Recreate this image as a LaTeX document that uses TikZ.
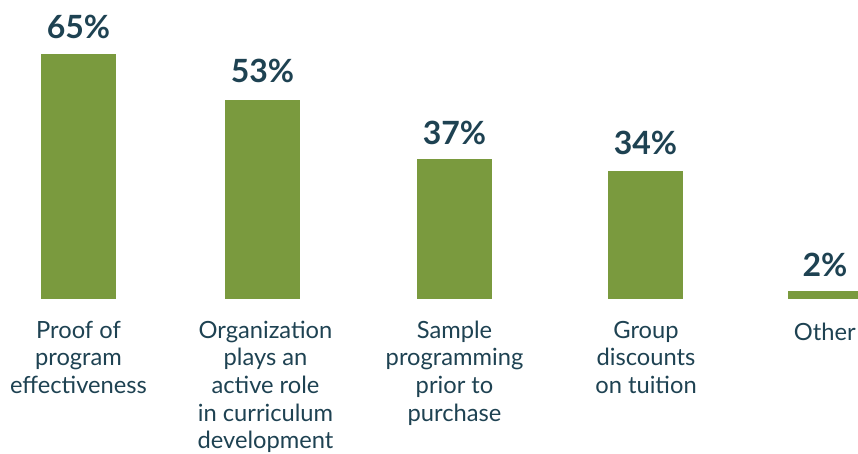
\documentclass[tikz,border=0pt]{standalone}
\usepackage{fontspec}
\setmainfont{Lato}
\definecolor{barg}{RGB}{122,154,62}
\definecolor{txt}{RGB}{30,66,82}
\begin{document}
\begin{tikzpicture}[x=1pt,y=-1pt,
  bar/.style={fill=barg,draw=none,inner sep=0pt,anchor=south,minimum width=75pt},
  val/.style={anchor=base,inner sep=0pt,text=txt,font=\fontsize{32}{36}\selectfont\bfseries},
  cat/.style={anchor=north,inner sep=0pt,text=txt,align=center,font=\fontsize{23.7}{27.6}\selectfont,execute at begin node=\strut}]
\useasboundingbox (0,0) rectangle (858,454);
\node[bar,minimum height=245pt] (b1) at (78.5,299) {};
\node[bar,minimum height=199pt] (b2) at (262.5,299) {};
\node[bar,minimum height=140pt] (b3) at (454.5,299) {};
\node[bar,minimum height=128pt] (b4) at (645.5,299) {};
\node[bar,minimum height=8pt] (b5) at (825.5,299) {};
\node[val] (v1) at (78.5,39) {65\%};
\node[val] (v2) at (262.5,83) {53\%};
\node[val] (v3) at (454.5,145) {37\%};
\node[val] (v4) at (645.5,155) {34\%};
\node[val] (v5) at (825,276) {2\%};
\node[cat] (c1) at (78.5,320.7) {Proof of\\program\\effectiveness};
\node[cat] (c2) at (265.5,320.7) {Organization\\plays an\\active role\\in curriculum\\development};
\node[cat] (c3) at (454.5,320.7) {Sample\\programming\\prior to\\purchase};
\node[cat] (c4) at (646,320.7) {Group\\discounts\\on tuition};
\node[cat] (c5) at (824.7,320.7) {Other};
\end{tikzpicture}
\end{document}
